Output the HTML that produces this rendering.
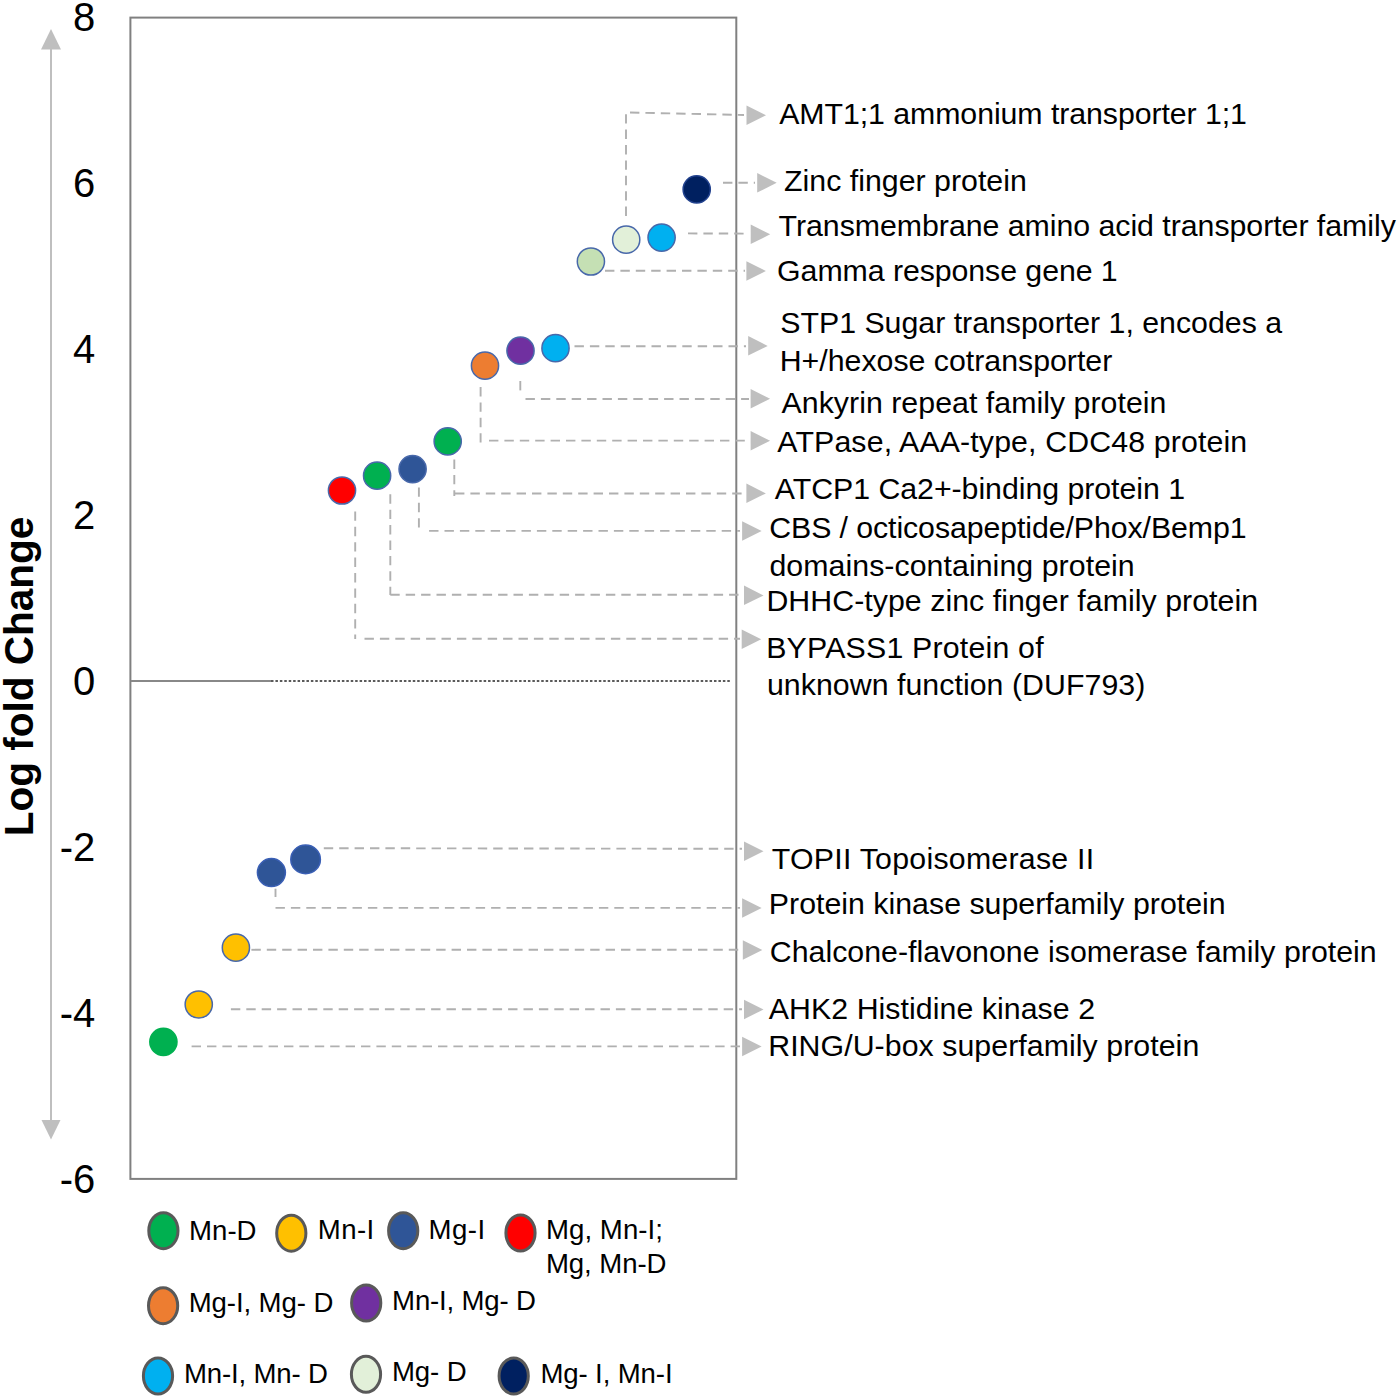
<!DOCTYPE html>
<html><head><meta charset="utf-8"><title>Log fold change chart</title>
<style>
html,body{margin:0;padding:0;background:#fff;}
body{width:1400px;height:1400px;overflow:hidden;}
svg{display:block;font-family:"Liberation Sans",sans-serif;}
text{fill:#000;}
</style></head>
<body>
<svg width="1400" height="1400" viewBox="0 0 1400 1400">
<rect width="1400" height="1400" fill="#fff"/>
<line x1="51" y1="47" x2="51" y2="1122" stroke="#bfbfbf" stroke-width="2"/>
<polygon points="51,29 41,49.5 61,49.5" fill="#bfbfbf"/>
<polygon points="51,1139.5 41.5,1120 60.5,1120" fill="#bfbfbf"/>
<rect x="130.4" y="17.6" width="605.9" height="1161.3" fill="none" stroke="#808080" stroke-width="2"/>
<line x1="131" y1="681" x2="271" y2="681" stroke="#888" stroke-width="1.8"/>
<line x1="271" y1="681" x2="731" y2="681" stroke="#5a5a5a" stroke-width="1.8" stroke-dasharray="2.5 1.93"/>
<text x="95.3" y="31.4" font-size="40.0" text-anchor="end">8</text>
<text x="95.3" y="197.3" font-size="40.0" text-anchor="end">6</text>
<text x="95.3" y="363.3" font-size="40.0" text-anchor="end">4</text>
<text x="95.3" y="529.2" font-size="40.0" text-anchor="end">2</text>
<text x="95.3" y="695.1" font-size="40.0" text-anchor="end">0</text>
<text x="95.3" y="861.1" font-size="40.0" text-anchor="end">-2</text>
<text x="95.3" y="1027.0" font-size="40.0" text-anchor="end">-4</text>
<text x="95.3" y="1192.9" font-size="40.0" text-anchor="end">-6</text>
<text transform="translate(33,836.3) rotate(-90)" font-size="40.5" font-weight="bold">Log fold Change</text>
<line x1="626" y1="216" x2="626" y2="112.5" stroke="#b0b0b0" stroke-width="1.9" stroke-dasharray="9.4 6"/>
<line x1="630" y1="112.5" x2="744" y2="115" stroke="#b0b0b0" stroke-width="1.9" stroke-dasharray="9.4 6"/>
<polygon points="746.5,105.5 766.0,115.2 746.5,125.0" fill="#bfbfbf"/>
<line x1="723" y1="182.7" x2="755" y2="182.7" stroke="#b0b0b0" stroke-width="1.9" stroke-dasharray="9.4 6"/>
<polygon points="757.2,173.1 776.7,182.8 757.2,192.6" fill="#bfbfbf"/>
<line x1="688" y1="233.4" x2="749" y2="233.6" stroke="#b0b0b0" stroke-width="1.9" stroke-dasharray="9.4 6"/>
<polygon points="750.7,224.6 770.2,234.3 750.7,244.1" fill="#bfbfbf"/>
<line x1="605" y1="270.8" x2="745" y2="270.8" stroke="#b0b0b0" stroke-width="1.9" stroke-dasharray="9.4 6"/>
<polygon points="746.4,261.2 765.9,271.0 746.4,280.8" fill="#bfbfbf"/>
<line x1="574.5" y1="346.3" x2="746" y2="346.3" stroke="#b0b0b0" stroke-width="1.9" stroke-dasharray="9.4 6"/>
<polygon points="748.2,336.1 767.7,345.9 748.2,355.6" fill="#bfbfbf"/>
<line x1="520.3" y1="381" x2="520.3" y2="392" stroke="#b0b0b0" stroke-width="1.9" stroke-dasharray="9.4 6"/>
<line x1="525.5" y1="399" x2="749" y2="399" stroke="#b0b0b0" stroke-width="1.9" stroke-dasharray="9.4 6"/>
<polygon points="750.6,388.9 770.1,398.7 750.6,408.4" fill="#bfbfbf"/>
<line x1="480.6" y1="387" x2="480.6" y2="443" stroke="#b0b0b0" stroke-width="1.9" stroke-dasharray="9.4 6"/>
<line x1="489" y1="440.6" x2="749" y2="440.6" stroke="#b0b0b0" stroke-width="1.9" stroke-dasharray="9.4 6"/>
<polygon points="750.6,431.1 770.1,440.8 750.6,450.6" fill="#bfbfbf"/>
<line x1="454.3" y1="459.5" x2="454.3" y2="496" stroke="#b0b0b0" stroke-width="1.9" stroke-dasharray="9.4 6"/>
<line x1="455" y1="493.5" x2="745" y2="493.5" stroke="#b0b0b0" stroke-width="1.9" stroke-dasharray="9.4 6"/>
<polygon points="746.4,483.6 765.9,493.4 746.4,503.1" fill="#bfbfbf"/>
<line x1="418.9" y1="487.4" x2="418.9" y2="527.4" stroke="#b0b0b0" stroke-width="1.9" stroke-dasharray="9.4 6"/>
<line x1="429.1" y1="530.9" x2="740" y2="530.9" stroke="#b0b0b0" stroke-width="1.9" stroke-dasharray="9.4 6"/>
<polygon points="742.1,521.2 761.6,531.0 742.1,540.8" fill="#bfbfbf"/>
<line x1="390.3" y1="494.3" x2="390.3" y2="595" stroke="#b0b0b0" stroke-width="1.9" stroke-dasharray="9.4 6"/>
<line x1="390.3" y1="594.8" x2="742" y2="594.8" stroke="#b0b0b0" stroke-width="1.9" stroke-dasharray="9.4 6"/>
<polygon points="744.0,585.6 763.5,595.4 744.0,605.1" fill="#bfbfbf"/>
<line x1="355.2" y1="511.4" x2="355.2" y2="639" stroke="#b0b0b0" stroke-width="1.9" stroke-dasharray="9.4 6"/>
<line x1="364.5" y1="638.8" x2="740" y2="638.8" stroke="#b0b0b0" stroke-width="1.9" stroke-dasharray="9.4 6"/>
<polygon points="741.7,629.5 761.2,639.2 741.7,649.0" fill="#bfbfbf"/>
<line x1="323.8" y1="848.2" x2="742" y2="848.8" stroke="#b0b0b0" stroke-width="1.9" stroke-dasharray="9.4 6"/>
<polygon points="744.0,841.5 763.5,851.3 744.0,861.0" fill="#bfbfbf"/>
<line x1="275.5" y1="888.7" x2="275.5" y2="897" stroke="#b0b0b0" stroke-width="1.9" stroke-dasharray="9.4 6"/>
<line x1="275.5" y1="907.9" x2="740" y2="907.9" stroke="#b0b0b0" stroke-width="1.9" stroke-dasharray="9.4 6"/>
<polygon points="742.1,898.2 761.6,908.0 742.1,917.8" fill="#bfbfbf"/>
<line x1="251.4" y1="949.8" x2="741" y2="949.8" stroke="#b0b0b0" stroke-width="1.9" stroke-dasharray="9.4 6"/>
<polygon points="742.8,940.2 762.3,950.0 742.8,959.8" fill="#bfbfbf"/>
<line x1="230.9" y1="1009.3" x2="742" y2="1009.3" stroke="#b0b0b0" stroke-width="1.9" stroke-dasharray="9.4 6"/>
<polygon points="744.0,999.8 763.5,1009.5 744.0,1019.2" fill="#bfbfbf"/>
<line x1="191.6" y1="1046.4" x2="740" y2="1046.4" stroke="#b0b0b0" stroke-width="1.9" stroke-dasharray="9.4 6"/>
<polygon points="742.1,1036.8 761.6,1046.5 742.1,1056.2" fill="#bfbfbf"/>
<ellipse cx="696.7" cy="189.4" rx="13.6" ry="13.6" fill="#002060" stroke="#22428e" stroke-width="1.5"/>
<ellipse cx="626.2" cy="239.7" rx="13.6" ry="13.6" fill="#e2f0d9" stroke="#4868aa" stroke-width="1.5"/>
<ellipse cx="661.6" cy="237.6" rx="13.6" ry="13.6" fill="#00b0f0" stroke="#4868aa" stroke-width="1.5"/>
<ellipse cx="590.9" cy="261.5" rx="13.6" ry="13.6" fill="#c5e0b4" stroke="#4868aa" stroke-width="1.5"/>
<ellipse cx="555.5" cy="348.2" rx="13.6" ry="13.6" fill="#00b0f0" stroke="#4868aa" stroke-width="1.5"/>
<ellipse cx="520.5" cy="350.7" rx="13.6" ry="13.6" fill="#7030a0" stroke="#4868aa" stroke-width="1.5"/>
<ellipse cx="485" cy="365.7" rx="13.6" ry="13.6" fill="#ed7d31" stroke="#4868aa" stroke-width="1.5"/>
<ellipse cx="447.7" cy="441.4" rx="13.6" ry="13.6" fill="#00b050" stroke="#4868aa" stroke-width="1.5"/>
<ellipse cx="412.6" cy="469.1" rx="13.6" ry="13.6" fill="#2f5597" stroke="#4868aa" stroke-width="1.5"/>
<ellipse cx="377.1" cy="475.7" rx="13.6" ry="13.6" fill="#00b050" stroke="#4868aa" stroke-width="1.5"/>
<ellipse cx="342" cy="490.5" rx="13.6" ry="13.6" fill="#ff0000" stroke="#4868aa" stroke-width="1.5"/>
<ellipse cx="305.6" cy="859.4" rx="14.8" ry="14.3" fill="#2f5597" stroke="#3a5fb5" stroke-width="1.5"/>
<ellipse cx="271.4" cy="872.6" rx="14.0" ry="14.0" fill="#2f5597" stroke="#3a5fb5" stroke-width="1.5"/>
<ellipse cx="235.9" cy="947.7" rx="13.6" ry="13.6" fill="#ffc000" stroke="#4868aa" stroke-width="1.5"/>
<ellipse cx="198.75" cy="1004.5" rx="13.6" ry="13.6" fill="#ffc000" stroke="#4868aa" stroke-width="1.5"/>
<ellipse cx="163.4" cy="1041.8" rx="13.6" ry="13.6" fill="#00b050" stroke="#00b050" stroke-width="1.5"/>
<text x="779.2" y="124.3" font-size="30.3" textLength="467.78" lengthAdjust="spacing">AMT1;1 ammonium transporter 1;1</text>
<text x="784.0" y="190.7" font-size="30.3" textLength="242.80" lengthAdjust="spacing">Zinc finger protein</text>
<text x="778.6" y="236.4" font-size="30.3" textLength="617.22" lengthAdjust="spacing">Transmembrane amino acid transporter family</text>
<text x="777.1" y="280.7" font-size="30.3" textLength="340.59" lengthAdjust="spacing">Gamma response gene 1</text>
<text x="780.2" y="333.4" font-size="30.3" textLength="501.88" lengthAdjust="spacing">STP1 Sugar transporter 1, encodes a</text>
<text x="779.7" y="371.0" font-size="30.3" textLength="332.61" lengthAdjust="spacing">H+/hexose cotransporter</text>
<text x="781.5" y="412.9" font-size="30.3" textLength="384.94" lengthAdjust="spacing">Ankyrin repeat family protein</text>
<text x="777.3" y="452.4" font-size="30.3" textLength="469.89" lengthAdjust="spacing">ATPase, AAA-type, CDC48 protein</text>
<text x="774.8" y="498.9" font-size="30.3" textLength="410.22" lengthAdjust="spacing">ATCP1 Ca2+-binding protein 1</text>
<text x="769.2" y="538.3" font-size="30.3" textLength="477.38" lengthAdjust="spacing">CBS / octicosapeptide/Phox/Bemp1</text>
<text x="769.4" y="576.1" font-size="30.3" textLength="365.30" lengthAdjust="spacing">domains-containing protein</text>
<text x="766.4" y="611.2" font-size="30.3" textLength="491.67" lengthAdjust="spacing">DHHC-type zinc finger family protein</text>
<text x="766.2" y="657.7" font-size="30.3" textLength="277.35" lengthAdjust="spacing">BYPASS1 Protein of</text>
<text x="766.9" y="695.4" font-size="30.3" textLength="378.42" lengthAdjust="spacing">unknown function (DUF793)</text>
<text x="771.8" y="869.2" font-size="30.3" textLength="322.34" lengthAdjust="spacing">TOPII Topoisomerase II</text>
<text x="768.8" y="913.5" font-size="30.3" textLength="456.88" lengthAdjust="spacing">Protein kinase superfamily protein</text>
<text x="769.8" y="961.5" font-size="30.3" textLength="606.85" lengthAdjust="spacing">Chalcone-flavonone isomerase family protein</text>
<text x="768.8" y="1018.9" font-size="30.3" textLength="326.22" lengthAdjust="spacing">AHK2 Histidine kinase 2</text>
<text x="768.2" y="1055.9" font-size="30.3" textLength="431.06" lengthAdjust="spacing">RING/U-box superfamily protein</text>
<ellipse cx="163.4" cy="1230.7" rx="14.6" ry="18" fill="#00b050" stroke="#595959" stroke-width="3"/>
<ellipse cx="291.3" cy="1233.2" rx="14.6" ry="18" fill="#ffc000" stroke="#595959" stroke-width="3"/>
<ellipse cx="403.2" cy="1230.7" rx="14.6" ry="18" fill="#2f5597" stroke="#595959" stroke-width="3"/>
<ellipse cx="520.5" cy="1233.0" rx="14.6" ry="18" fill="#ff0000" stroke="#595959" stroke-width="3"/>
<ellipse cx="163.1" cy="1305.7" rx="14.6" ry="18" fill="#ed7d31" stroke="#595959" stroke-width="3"/>
<ellipse cx="366.2" cy="1303.0" rx="14.6" ry="18" fill="#7030a0" stroke="#595959" stroke-width="3"/>
<ellipse cx="158.0" cy="1376.0" rx="14.6" ry="18" fill="#00b0f0" stroke="#595959" stroke-width="3"/>
<ellipse cx="366.0" cy="1374.3" rx="14.6" ry="18" fill="#e2f0d9" stroke="#595959" stroke-width="3"/>
<ellipse cx="513.7" cy="1376.0" rx="14.6" ry="18" fill="#002060" stroke="#595959" stroke-width="3"/>
<text x="189.1" y="1239.7" font-size="27.6" xml:space="preserve" textLength="67.45" lengthAdjust="spacing">Mn-D</text>
<text x="317.7" y="1239.4" font-size="27.6" xml:space="preserve" textLength="56.59" lengthAdjust="spacing">Mn-I</text>
<text x="428.6" y="1239.4" font-size="27.6" xml:space="preserve" textLength="56.49" lengthAdjust="spacing">Mg-I</text>
<text x="545.9" y="1239.2" font-size="27.6" xml:space="preserve" textLength="117.13" lengthAdjust="spacing">Mg, Mn-I;</text>
<text x="545.9" y="1272.6" font-size="27.6" xml:space="preserve" textLength="120.63" lengthAdjust="spacing">Mg, Mn-D</text>
<text x="188.7" y="1312.0" font-size="27.6" xml:space="preserve" textLength="144.64" lengthAdjust="spacing">Mg-I, Mg- D</text>
<text x="392.1" y="1310.0" font-size="27.6" xml:space="preserve" textLength="143.84" lengthAdjust="spacing">Mn-I, Mg- D</text>
<text x="184.0" y="1383.0" font-size="27.6" xml:space="preserve" textLength="143.84" lengthAdjust="spacing">Mn-I, Mn- D</text>
<text x="391.9" y="1380.7" font-size="27.6" xml:space="preserve" textLength="74.73" lengthAdjust="spacing">Mg- D</text>
<text x="540.4" y="1383.0" font-size="27.6" xml:space="preserve" textLength="132.18" lengthAdjust="spacing">Mg- I, Mn-I</text>
</svg>
</body></html>
